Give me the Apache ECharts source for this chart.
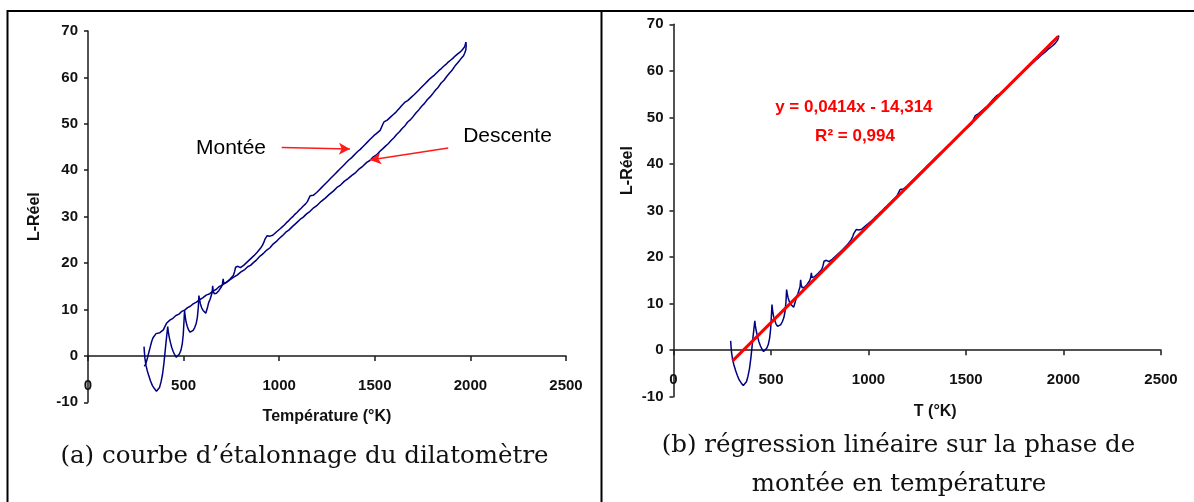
<!DOCTYPE html>
<html><head><meta charset="utf-8">
<script src="https://cdn.jsdelivr.net/npm/echarts/dist/echarts.min.js"></script>
<style>html,body{margin:0;padding:0;background:#fff}#c{width:1194px;height:502px}</style>
</head><body><div id="c"></div>
<script>
// ---------- data (T in °K, L-Réel) ----------
const montee = [[293,2.0],[295,0.8],[298,-0.6],[303,-2.0],[310,-3.2],[318,-4.3],[327,-5.4],[337,-6.4],[348,-7.1],[358,-7.6],[366,-7.5],[374,-6.8],[382,-5.6],[390,-3.9],[397,-1.6],[403,0.8],[408,2.9],[413,4.8],[417,6.3],[420,5.2],[425,4.0],[431,2.9],[438,1.8],[446,0.9],[454,0.2],[462,-0.3],[470,-0.1],[478,0.4],[486,1.2],[493,2.6],[498,4.5],[502,7.4],[505,9.8],[508,8.6],[513,7.3],[519,6.4],[526,5.6],[534,5.1],[542,5.0],[550,5.5],[558,6.1],[566,7.0],[572,8.3],[577,10.5],[580,13.0],[583,12.2],[588,11.2],[595,10.3],[602,9.8],[609,9.4],[616,9.2],[621,9.6],[626,10.6],[632,11.6],[638,12.1],[644,12.4],[649,13.6],[652,15.1],[655,14.0],[660,13.4],[666,13.1],[672,13.5],[678,13.8],[685,14.1],[692,14.4],[698,14.9],[703,15.5],[707,16.6],[710,15.6],[716,15.5],[724,15.8],[733,16.2],[742,16.5],[751,16.9],[760,17.3],[767,18.2],[772,19.1],[778,19.5],[784,19.3],[790,18.9],[797,19.0],[805,19.2],[814,19.5],[823,19.8],[832,20.2],[841,20.6],[850,20.9],[859,21.3],[868,21.6],[877,22.0],[886,22.4],[895,22.8],[904,23.3],[912,23.8],[919,24.4],[925,25.1],[931,25.5],[937,25.9],[944,25.9],[951,25.8],[958,25.9],[966,26.0],[975,26.3],[985,26.7],[995,27.0],[1005,27.4],[1016,27.8],[1027,28.2],[1038,28.7],[1049,29.1],[1060,29.6],[1071,30.0],[1082,30.5],[1093,30.9],[1104,31.4],[1115,31.8],[1126,32.3],[1137,32.7],[1148,33.3],[1156,34.0],[1162,34.5],[1170,34.6],[1178,34.6],[1186,34.9],[1196,35.2],[1208,35.7],[1220,36.2],[1232,36.7],[1244,37.2],[1256,37.7],[1268,38.2],[1280,38.7],[1292,39.2],[1304,39.7],[1316,40.2],[1328,40.7],[1340,41.2],[1352,41.7],[1364,42.2],[1376,42.6],[1388,43.1],[1400,43.6],[1412,44.1],[1424,44.5],[1436,45.0],[1448,45.5],[1460,46.0],[1472,46.5],[1484,47.0],[1496,47.5],[1508,47.9],[1518,48.3],[1528,48.6],[1536,49.0],[1542,49.9],[1548,50.4],[1556,50.6],[1565,50.8],[1575,51.2],[1586,51.6],[1597,52.0],[1608,52.4],[1619,52.9],[1630,53.4],[1640,53.9],[1648,54.3],[1656,54.6],[1664,54.7],[1672,55.0],[1682,55.4],[1693,55.8],[1704,56.2],[1716,56.7],[1728,57.2],[1740,57.7],[1752,58.2],[1764,58.7],[1776,59.2],[1788,59.7],[1800,60.1],[1812,60.5],[1824,61.0],[1836,61.5],[1848,61.9],[1860,62.4],[1872,62.8],[1884,63.3],[1896,63.7],[1908,64.1],[1920,64.6],[1932,65.0],[1944,65.4],[1955,65.8],[1964,66.2],[1970,66.6],[1974,67.2],[1976,67.6]];
const descente = [[1976,67.6],[1978,66.8],[1976,65.9],[1970,65.2],[1963,64.6],[1950,64.0],[1935,63.2],[1920,62.5],[1905,61.6],[1890,60.9],[1876,60.2],[1862,59.4],[1847,58.8],[1832,57.9],[1818,57.3],[1803,56.5],[1789,55.8],[1774,55.2],[1760,54.4],[1745,53.8],[1730,53.0],[1716,52.4],[1701,51.6],[1687,50.9],[1672,50.4],[1658,49.6],[1643,49.0],[1629,48.3],[1614,47.7],[1600,47.0],[1585,46.4],[1570,45.7],[1556,45.2],[1541,44.6],[1527,44.1],[1509,43.3],[1490,42.8],[1474,42.1],[1458,41.7],[1438,40.9],[1419,40.3],[1400,39.5],[1380,38.9],[1360,38.2],[1340,37.6],[1321,36.8],[1302,36.3],[1283,35.5],[1262,34.8],[1241,34.0],[1220,33.3],[1200,32.5],[1180,31.9],[1160,31.1],[1143,30.6],[1126,29.9],[1109,29.4],[1089,28.6],[1070,27.9],[1050,27.1],[1033,26.6],[1017,25.9],[1000,25.3],[984,24.6],[968,24.1],[952,23.3],[935,22.8],[918,22.1],[900,21.5],[882,20.7],[865,20.1],[850,19.5],[835,19.2],[820,18.6],[800,18.1],[780,17.4],[760,16.9],[740,16.3],[720,15.8],[700,15.2],[685,14.9],[670,14.3],[655,14.0],[637,13.4],[618,13.1],[600,12.5],[583,12.1],[567,11.6],[550,11.2],[535,10.7],[521,10.4],[507,9.9],[491,9.6],[476,9.0],[460,8.7],[444,8.1],[428,7.7],[412,7.1],[402,6.3],[394,5.6],[386,5.2],[376,5.0],[366,4.9],[356,4.8],[348,4.5],[340,3.9],[333,3.1],[326,2.0],[319,0.9],[312,-0.3],[305,-1.3],[299,-2.0],[294,-2.2]];
const trendline = [[303,-2.3],[1973,67.4]];
const xRange = [0, 2500, 500];
const yRange = [-10, 70, 10];
const xTitleA = 'Température (°K)';
const xTitleB = 'T (°K)';
const yTitle = 'L-Réel';
const arrowsA = [[[1013,44.9],[1370,44.6]], [[1884,44.8],[1475,42.2]]];
const notesA = [['Montée',[748,44.8]], ['Descente',[2194,47.4]]];
const notesB = [['y = 0,0414x - 14,314',[925,52.2]], ['R² = 0,994',[931,46.0]]];
const captionA = '(a) courbe d’étalonnage du dilatomètre';
const captionB = ['(b) régression linéaire sur la phase de', 'montée en température'];

// ---------- chart ----------
const F = '"Liberation Sans", Arial, sans-serif';
const AX = '#1a1a1a';
const grids = [{left:88, top:31, width:478, height:371.3},
               {left:673.5, top:24.3, width:487.5, height:372.4}];
function zeroOffset(gi) { // move the x axis up from the grid bottom to the y = 0 line
  return -(0 - yRange[0]) * grids[gi].height / (yRange[1] - yRange[0]);
}
function xAx(gi, name, gap, pad) {
  return {type:'value', gridIndex:gi, min:xRange[0], max:xRange[1], interval:xRange[2],
    position:'bottom', offset:zeroOffset(gi),
    name:name, nameLocation:'middle', nameGap:gap,
    nameTextStyle:{fontFamily:F, fontWeight:'bold', fontSize:16, color:'#111', padding:pad},
    axisLine:{show:true, onZero:false, lineStyle:{color:AX, width:1.5}},
    axisTick:{show:true, length:5, lineStyle:{color:AX, width:1.5}},
    axisLabel:{margin:22, fontFamily:F, fontWeight:'bold', fontSize:15, color:'#111', formatter:v => String(v)},
    splitLine:{show:false}};
}
function yAx(gi, gap, pad) {
  return {type:'value', gridIndex:gi, min:yRange[0], max:yRange[1], interval:yRange[2],
    name:yTitle, nameLocation:'middle', nameGap:gap, nameRotate:90,
    nameTextStyle:{fontFamily:F, fontWeight:'bold', fontSize:16, color:'#111', padding:pad},
    axisLine:{show:true, onZero:false, lineStyle:{color:AX, width:1.5}},
    axisTick:{show:true, length:4, lineStyle:{color:AX, width:1.5}},
    axisLabel:{margin:10, fontFamily:F, fontWeight:'bold', fontSize:15, color:'#111', formatter:v => String(v)},
    splitLine:{show:false}};
}
const chart = echarts.init(document.getElementById('c'), null, {renderer:'canvas'});
const blue = {color:'#000080', width:1.5};
chart.setOption({
  animation:false,
  backgroundColor:'#fff',
  grid:grids,
  xAxis:[xAx(0, xTitleA, 53, 0), xAx(1, xTitleB, 53.5, [0,0,0,36])],
  yAxis:[yAx(0, 45, 0), yAx(1, 38, [0,0,0,80])],
  series:[
    {type:'line', xAxisIndex:0, yAxisIndex:0, data:montee, showSymbol:false, lineStyle:blue, z:2,
     markLine:{silent:true, symbol:['none','arrow'], symbolSize:[9,11], animation:false,
       lineStyle:{color:'#ff1a1a', width:1.5, type:'solid'}, label:{show:false},
       data:arrowsA.map(a => [{coord:a[0]}, {coord:a[1]}])}},
    {type:'line', xAxisIndex:0, yAxisIndex:0, data:descente, showSymbol:false, lineStyle:blue, z:2},
    {type:'line', xAxisIndex:1, yAxisIndex:1, data:montee, showSymbol:false, lineStyle:blue, z:2},
    {type:'line', xAxisIndex:1, yAxisIndex:1, data:trendline, showSymbol:false, lineStyle:{color:'#ff0000', width:3}, z:3}
  ]
});
const g = [];
// table borders
[[7,11,1194,11],[7.5,10,7.5,502],[601.5,10,601.5,502]].forEach(l => g.push({type:'line', shape:{x1:l[0],y1:l[1],x2:l[2],y2:l[3]}, style:{stroke:'#000', lineWidth:2}, silent:true}));
notesA.forEach(n => { const p = chart.convertToPixel({gridIndex:0}, n[1]);
  g.push({type:'text', x:p[0], y:p[1], style:{text:n[0], font:'21px '+F, fill:'#000', align:'center', verticalAlign:'middle'}, z:10}); });
notesB.forEach(n => { const p = chart.convertToPixel({gridIndex:1}, n[1]);
  g.push({type:'text', x:p[0], y:p[1], style:{text:n[0], font:'bold 17px '+F, fill:'#ff0000', align:'center', verticalAlign:'middle'}, z:10}); });
const SF = '24.5px "DejaVu Serif", serif';
g.push({type:'text', x:304.5, y:457, style:{text:captionA, font:SF, fill:'#111', align:'center', verticalAlign:'middle'}});
g.push({type:'text', x:898.5, y:445.5, style:{text:captionB[0], font:SF, fill:'#111', align:'center', verticalAlign:'middle'}});
g.push({type:'text', x:899, y:485, style:{text:captionB[1], font:SF, fill:'#111', align:'center', verticalAlign:'middle'}});
chart.setOption({graphic:g});
</script></body></html>
